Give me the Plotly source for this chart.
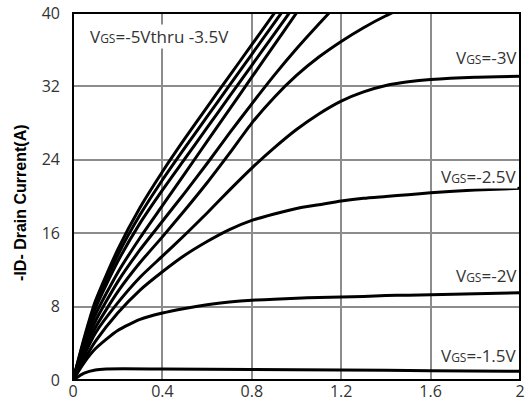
import plotly.graph_objects as go

# Drain-source voltage (V) sample points and drain current (A) for each VGS curve
vds_group = [0, 0.05, 0.1, 0.2, 0.3, 0.4, 0.5, 0.6, 0.7, 0.8, 0.9, 1.0, 1.1, 1.2, 1.3, 1.4, 1.5]
id_g1 = [0, 4.6, 8.6, 14.2, 18.8, 22.7, 26.3, 29.75, 33.15, 36.55, 39.95, 43.3, 46.6, 49.9, 53.2, 56.5, 59.8]
id_g2 = [0, 4.4, 8.2, 13.6, 18.0, 21.8, 25.3, 28.7, 32.1, 35.5, 38.9, 42.3, 45.6, 48.9, 52.2, 55.5, 58.8]
id_g3 = [0, 4.1, 7.8, 12.9, 17.1, 20.7, 24.1, 27.5, 30.9, 34.3, 37.7, 41.1, 44.4, 47.7, 51.0, 54.3, 57.6]
id_g4 = [0, 3.8, 7.1, 11.7, 15.5, 19.0, 22.5, 26.0, 29.5, 33.0, 36.5, 40.0, 43.4, 46.8, 50.2, 53.6, 57.0]
id_g5 = [0, 3.4, 6.4, 10.7, 14.2, 17.3, 20.4, 23.6, 26.9, 30.1, 33.2, 36.1, 38.8, 41.4, 43.9, 46.3, 48.6]
id_g6 = [0, 3.0, 5.7, 9.6, 12.8, 15.6, 18.5, 21.5, 24.7, 28.0, 30.8, 33.2, 35.2, 36.9, 38.4, 39.7, 40.8]

vds_full = [0, 0.05, 0.1, 0.2, 0.3, 0.4, 0.5, 0.6, 0.7, 0.8, 0.9, 1.0, 1.1, 1.2, 1.3, 1.4, 1.5, 1.6, 1.8, 2.0]
id_m3 = [0, 2.7, 5.1, 8.4, 11.2, 13.5, 15.8, 18.2, 20.7, 23.1, 25.3, 27.3, 29.0, 30.4, 31.4, 32.1, 32.5, 32.75, 33.0, 33.1]
id_m25 = [0, 2.2, 4.2, 7.3, 9.8, 11.8, 13.6, 15.1, 16.4, 17.4, 18.1, 18.7, 19.1, 19.5, 19.8, 20.0, 20.2, 20.4, 20.7, 20.9]
id_m2 = [0, 1.9, 3.4, 5.4, 6.6, 7.3, 7.8, 8.2, 8.5, 8.7, 8.8, 8.9, 9.0, 9.05, 9.1, 9.2, 9.25, 9.3, 9.4, 9.5]

vds_low = [0, 0.05, 0.1, 0.15, 0.4, 0.8, 1.2, 1.6, 2.0]
id_m15 = [0, 0.75, 1.1, 1.2, 1.2, 1.15, 1.1, 1.0, 0.95]

x_ticks = [0, 0.4, 0.8, 1.2, 1.6, 2]
x_labels = ["0", "0.4", "0.8", "1.2", "1.6", "2"]
y_ticks = [0, 8, 16, 24, 32, 40]

curves = [
    ("group1", vds_group, id_g1),
    ("group2", vds_group, id_g2),
    ("group3", vds_group, id_g3),
    ("group4", vds_group, id_g4),
    ("group5", vds_group, id_g5),
    ("group6", vds_group, id_g6),
    ("-3V", vds_full, id_m3),
    ("-2.5V", vds_full, id_m25),
    ("-2V", vds_full, id_m2),
    ("-1.5V", vds_low, id_m15),
]

fig = go.Figure()
for name, xs, ys in curves:
    fig.add_trace(go.Scatter(x=xs, y=ys, mode="lines", name=name,
                             line=dict(color="black", width=3, shape="spline", smoothing=0.6),
                             showlegend=False, cliponaxis=True))

lab_font = dict(family="Open Sans, Liberation Sans, sans-serif", size=17, color="#333333")

def vgs(t):
    return "V<span style='font-size:12px'>GS</span>" + t

annots = [
    (0.07, 37.4, vgs("=-5Vthru -3.5V"), "left"),
    (1.99, 35.1, vgs("=-3V"), "right"),
    (1.99, 22.2, vgs("=-2.5V"), "right"),
    (1.99, 11.4, vgs("=-2V"), "right"),
    (1.99, 2.7, vgs("=-1.5V"), "right"),
]
for x, y, t, a in annots:
    fig.add_annotation(x=x, y=y, text=t, showarrow=False, xanchor=a, yanchor="middle",
                       font=lab_font, bgcolor="white", borderpad=0)

# y-axis title placed as a rotated annotation
fig.add_annotation(x=-0.119, y=0.482, xref="paper", yref="paper", textangle=-90,
                   text="<b>-ID- Drain Current(A)</b>", showarrow=False,
                   xanchor="center", yanchor="middle",
                   font=dict(family="Liberation Sans, Arial, sans-serif", size=16, color="black"))

# plot frame
fig.add_shape(type="rect", xref="paper", yref="paper", x0=0, x1=1, y0=0, y1=1,
              line=dict(color="black", width=2), layer="above")

tick_font = dict(family="Open Sans, Liberation Sans, sans-serif", size=16, color="#333333")
fig.update_xaxes(range=[0, 2], tickvals=x_ticks, ticktext=x_labels, showgrid=True,
                 gridcolor="#8c8c8c", gridwidth=1.5, zeroline=False, showline=False,
                 ticks="", automargin=False, ticklabeloverflow="allow", tickfont=tick_font)
fig.update_yaxes(range=[0, 40], tickvals=y_ticks, showgrid=True,
                 gridcolor="#8c8c8c", gridwidth=1.5, zeroline=False, showline=False,
                 ticks="", ticklabelstandoff=12, automargin=False, ticklabeloverflow="allow",
                 tickfont=tick_font)

fig.update_layout(width=528, height=415, margin=dict(l=73, r=8, t=13, b=35),
                  plot_bgcolor="white", paper_bgcolor="white")

fig.write_html("out.html", config={"displayModeBar": False},
               post_script="document.body.style.margin='0';document.body.style.overflow='hidden';")
